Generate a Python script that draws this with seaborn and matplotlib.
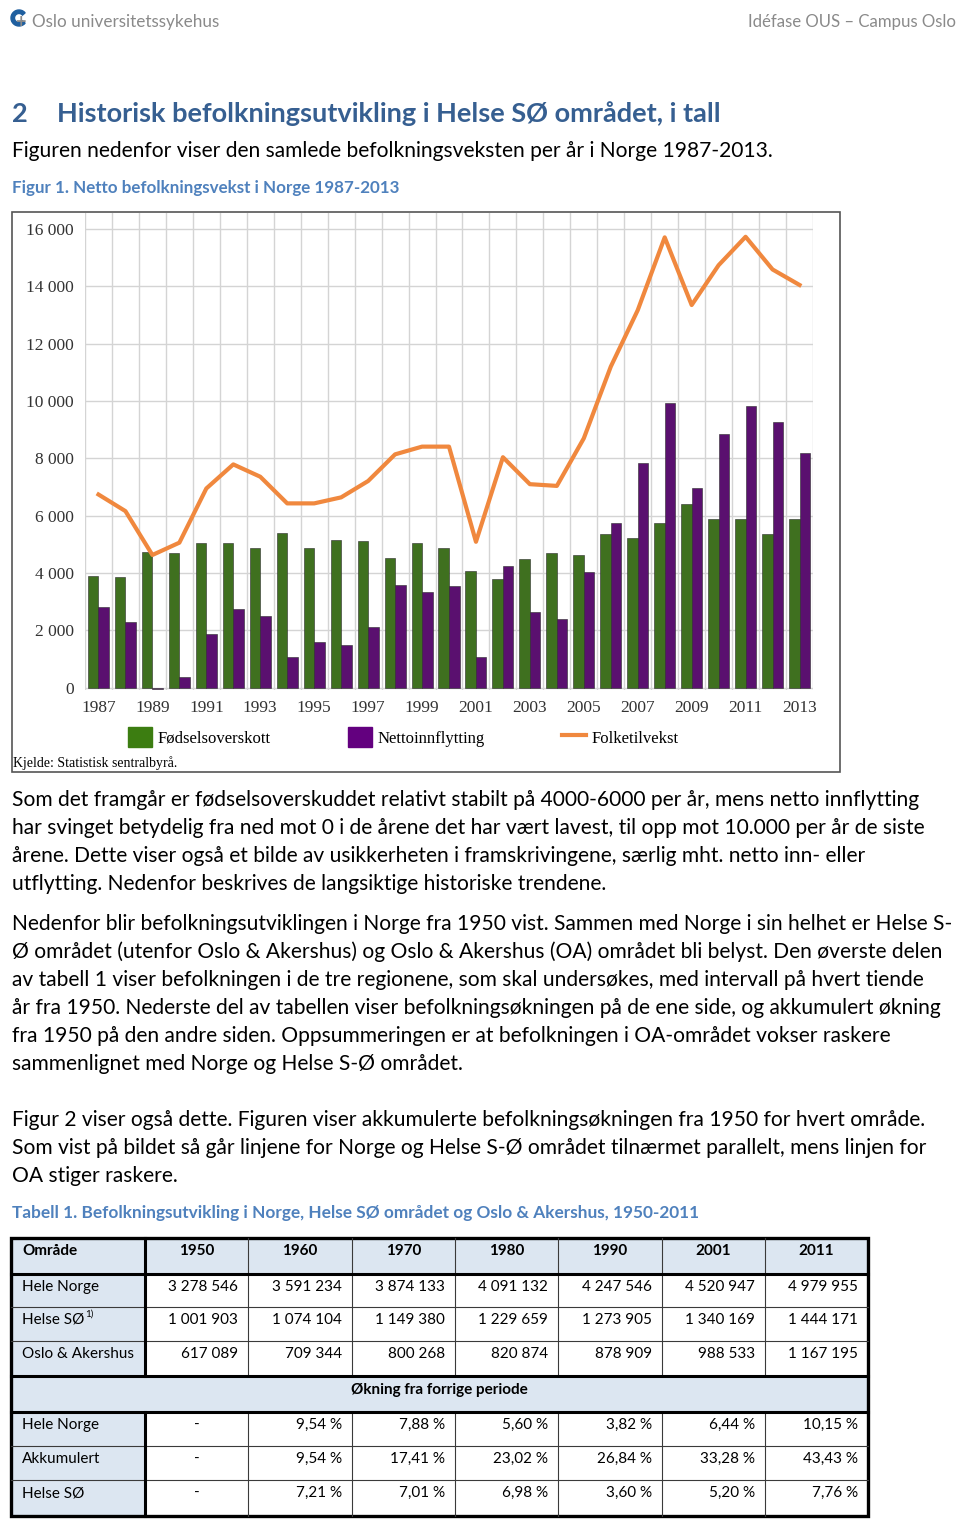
import numpy as np
import pandas as pd
import matplotlib
matplotlib.use('Agg')
import matplotlib.pyplot as plt
from matplotlib.patches import Rectangle, Patch, Wedge
from matplotlib.lines import Line2D
import seaborn as sns

# data: netto befolkningsvekst 1987-2013 (lest av figuren)
years = list(range(1987, 2014))
fodselsoverskott = [3900, 3860, 4720, 4690, 5060, 5060, 4860, 5380, 4860, 5150, 5120, 4540, 5060,
                    4860, 4070, 3780, 4480, 4690, 4620, 5350, 5210, 5760, 6400, 5880, 5880, 5350, 5880]
nettoinnflytting = [2830, 2300, -60, 360, 1880, 2730, 2490, 1070, 1600, 1490, 2120, 3590, 3350,
                    3550, 1080, 4260, 2630, 2380, 4050, 5760, 7850, 9920, 6980, 8840, 9830, 9260, 8200]
folketilvekst = [6740, 6160, 4630, 5060, 6950, 7790, 7360, 6430, 6430, 6640, 7210, 8140, 8410,
                 8410, 5090, 8040, 7100, 7040, 8700, 11200, 13170, 15710, 13350, 14740, 15730, 14590, 14050]
serier = ['Fødselsoverskott', 'Nettoinnflytting', 'Folketilvekst']

# tabell 1
tab_aar = ['1950', '1960', '1970', '1980', '1990', '2001', '2011']
hele_norge = ['3 278 546', '3 591 234', '3 874 133', '4 091 132', '4 247 546', '4 520 947', '4 979 955']
helse_so = ['1 001 903', '1 074 104', '1 149 380', '1 229 659', '1 273 905', '1 340 169', '1 444 171']
oslo_akershus = ['617 089', '709 344', '800 268', '820 874', '878 909', '988 533', '1 167 195']
okning_norge = ['-', '9,54 %', '7,88 %', '5,60 %', '3,82 %', '6,44 %', '10,15 %']
akkumulert = ['-', '9,54 %', '17,41 %', '23,02 %', '26,84 %', '33,28 %', '43,43 %']
okning_helse_so = ['-', '7,21 %', '7,01 %', '6,98 %', '3,60 %', '5,20 %', '7,76 %']

GREEN = '#3c7d11'
PURPLE = '#63007f'
ORANGE = '#f0883e'
BLUE_H = '#365f91'
BLUE_C = '#4f81bd'
CELL = '#dce6f1'

SANS = ['Lato', 'DejaVu Sans']
SERIF = ['Liberation Serif', 'DejaVu Serif']
plt.rcParams['font.family'] = SANS

fig = plt.figure(figsize=(9.6, 15.2), dpi=100)

# "side"-akse i pikselkoordinater for tekst og tabell
page = fig.add_axes([0, 0, 1, 1])
page.set_xlim(0, 960)
page.set_ylim(1520, 0)
page.axis('off')

def px(x, y):
    return x / 960, 1 - y / 1520

# topptekst
page.add_patch(Wedge((19, 18), 8, 40, 320, width=3.5, color='#1f5f9f'))
page.text(20, 22, '+', fontsize=13, fontweight='bold', color='#8a8a8a', ha='center', va='center')
page.text(32, 22, 'Oslo universitetssykehus', fontsize=12.3, color='#8a8a8a', va='center')
page.text(956, 22, 'Idéfase OUS – Campus Oslo', fontsize=12.1, color='#8a8a8a', va='center', ha='right')

page.text(12, 114, '2', fontsize=19.5, fontweight='bold', color=BLUE_H, va='center')
page.text(57, 114, 'Historisk befolkningsutvikling i Helse SØ området, i tall', fontsize=19.5,
          fontweight='bold', color=BLUE_H, va='center')
page.text(12, 151, 'Figuren nedenfor viser den samlede befolkningsveksten per år i Norge 1987-2013.',
          fontsize=15.1, va='center')
page.text(12, 188, 'Figur 1. Netto befolkningsvekst i Norge 1987-2013', fontsize=12.25,
          fontweight='bold', color=BLUE_C, va='center')

# ramme rundt figuren
page.add_patch(Rectangle((12, 212), 828, 560, fill=False, ec='#555555', lw=1.2))

# ---- figur 1 ----
ax = fig.add_axes([85 / 960, 1 - 690 / 1520, 728 / 960, 477 / 1520])
df = pd.DataFrame({'aar': years * 2,
                   'verdi': fodselsoverskott + nettoinnflytting,
                   'serie': [serier[0]] * len(years) + [serier[1]] * len(years)})
sns.barplot(data=df, x='aar', y='verdi', hue='serie', hue_order=serier[:2],
            palette={serier[0]: GREEN, serier[1]: PURPLE}, width=0.78,
            edgecolor='#2a2a2a', linewidth=0.4, legend=False, ax=ax, zorder=3)
sns.lineplot(x=np.arange(len(years)), y=folketilvekst, color=ORANGE, lw=3, ax=ax, zorder=4)

ax.set_xlim(-0.5, len(years) - 0.5)
ax.set_ylim(-80, 16560)
ax.set_yticks(range(0, 16001, 2000))
ax.yaxis.set_major_formatter(matplotlib.ticker.FuncFormatter(lambda v, p: f'{int(v):,}'.replace(',', ' ')))
ax.set_xticks(range(0, len(years), 2))
ax.set_xticklabels([str(y) for y in years[::2]])
ax.set_xticks(np.arange(-0.5, len(years), 1), minor=True)
ax.grid(axis='y', which='major', color='#d4d4d4', lw=1, zorder=0)
ax.grid(axis='x', which='minor', color='#d4d4d4', lw=1, zorder=0)
ax.grid(axis='x', which='major', visible=False)
ax.tick_params(which='both', length=0)
ax.tick_params(axis='y', pad=8)
ax.tick_params(axis='x', pad=7)
for lab in ax.get_xticklabels() + ax.get_yticklabels():
    lab.set_family(SERIF)
    lab.set_fontsize(12.5)
    lab.set_color('#333333')
ax.set_xlabel('')
ax.set_ylabel('')
for s in ax.spines.values():
    s.set_visible(False)

handles = [Patch(color=GREEN), Patch(color=PURPLE), Line2D([], [], color=ORANGE, lw=3)]
fig.legend(handles, serier, ncol=3, loc='center left', bbox_to_anchor=px(128, 737),
           frameon=False, prop={'family': SERIF, 'size': 12}, handlelength=1.45, handleheight=1.45,
           handletextpad=0.35, columnspacing=4.6, borderpad=0, borderaxespad=0)
page.text(13, 763, 'Kjelde: Statistisk sentralbyrå.', fontsize=10, family=SERIF, va='center')

# ---- brødtekst ----
avsnitt = [
    (800, 'Som det framgår er fødselsoverskuddet relativt stabilt på 4000-6000 per år, mens netto innflytting'),
    (828, 'har svinget betydelig fra ned mot 0 i de årene det har vært lavest, til opp mot 10.000 per år de siste'),
    (856, 'årene. Dette viser også et bilde av usikkerheten i framskrivingene, særlig mht. netto inn- eller'),
    (884, 'utflytting. Nedenfor beskrives de langsiktige historiske trendene.'),
    (924, 'Nedenfor blir befolkningsutviklingen i Norge fra 1950 vist. Sammen med Norge i sin helhet er Helse S-'),
    (952, 'Ø området (utenfor Oslo & Akershus) og Oslo & Akershus (OA) området bli belyst. Den øverste delen'),
    (980, 'av tabell 1 viser befolkningen i de tre regionene, som skal undersøkes, med intervall på hvert tiende'),
    (1008, 'år fra 1950. Nederste del av tabellen viser befolkningsøkningen på de ene side, og akkumulert økning'),
    (1036, 'fra 1950 på den andre siden. Oppsummeringen er at befolkningen i OA-området vokser raskere'),
    (1064, 'sammenlignet med Norge og Helse S-Ø området.'),
    (1120, 'Figur 2 viser også dette. Figuren viser akkumulerte befolkningsøkningen fra 1950 for hvert område.'),
    (1148, 'Som vist på bildet så går linjene for Norge og Helse S-Ø området tilnærmet parallelt, mens linjen for'),
    (1176, 'OA stiger raskere.'),
]
for y, t in avsnitt:
    page.text(12, y, t, fontsize=15.15, va='center')

page.text(12, 1213, 'Tabell 1. Befolkningsutvikling i Norge, Helse SØ området og Oslo & Akershus, 1950-2011',
          fontsize=12.4, fontweight='bold', color=BLUE_C, va='center')

# ---- tabell 1 ----
cols = [11, 145, 248, 352, 455, 558, 662, 765, 868]
rows = [1238, 1274, 1307, 1341, 1376, 1412, 1446, 1480, 1516]

# bakgrunn
page.add_patch(Rectangle((cols[0], rows[0]), cols[-1] - cols[0], rows[1] - rows[0], color=CELL, lw=0))
page.add_patch(Rectangle((cols[0], rows[4]), cols[-1] - cols[0], rows[5] - rows[4], color=CELL, lw=0))
for r0, r1 in [(1, 4), (5, 8)]:
    page.add_patch(Rectangle((cols[0], rows[r0]), cols[1] - cols[0], rows[r1] - rows[r0], color=CELL, lw=0))

# tynne linjer
for r in rows[1:-1]:
    page.plot([cols[0], cols[-1]], [r, r], color='#3a3a3a', lw=0.8)
for c in cols[2:-1]:
    page.plot([c, c], [rows[0], rows[4]], color='#3a3a3a', lw=0.8)
    page.plot([c, c], [rows[5], rows[-1]], color='#3a3a3a', lw=0.8)
# tykke linjer
for r in [rows[1], rows[4], rows[5]]:
    page.plot([cols[0], cols[-1]], [r, r], color='black', lw=2.2)
page.plot([cols[1], cols[1]], [rows[0], rows[4]], color='black', lw=2.2)
page.plot([cols[1], cols[1]], [rows[5], rows[-1]], color='black', lw=2.2)
page.add_patch(Rectangle((cols[0], rows[0]), cols[-1] - cols[0], rows[-1] - rows[0], fill=False,
                         ec='black', lw=2.4))

fs_tab = 11
page.text(22, rows[0] + 13, 'Område', fontsize=fs_tab, fontweight='bold', va='center')
for i, a in enumerate(tab_aar):
    page.text((cols[i + 1] + cols[i + 2]) / 2, rows[0] + 13, a, fontsize=fs_tab, fontweight='bold',
              va='center', ha='center')

def tabellrad(r, navn, verdier):
    page.text(22, rows[r] + 13, navn, fontsize=fs_tab, va='center')
    for i, v in enumerate(verdier):
        if v == '-':
            page.text((cols[i + 1] + cols[i + 2]) / 2, rows[r] + 13, v, fontsize=fs_tab, va='center', ha='center')
        else:
            page.text(cols[i + 2] - 10, rows[r] + 13, v, fontsize=fs_tab, va='center', ha='right')

tabellrad(1, 'Hele Norge', hele_norge)
tabellrad(2, 'Helse SØ', helse_so)
page.text(85, rows[2] + 7, '1)', fontsize=7, va='center')
tabellrad(3, 'Oslo & Akershus', oslo_akershus)
page.text((cols[0] + cols[-1]) / 2, rows[4] + 14, 'Økning fra forrige periode', fontsize=fs_tab,
          fontweight='bold', va='center', ha='center')
tabellrad(5, 'Hele Norge', okning_norge)
tabellrad(6, 'Akkumulert', akkumulert)
tabellrad(7, 'Helse SØ', okning_helse_so)

fig.savefig('out.png', dpi=100)
